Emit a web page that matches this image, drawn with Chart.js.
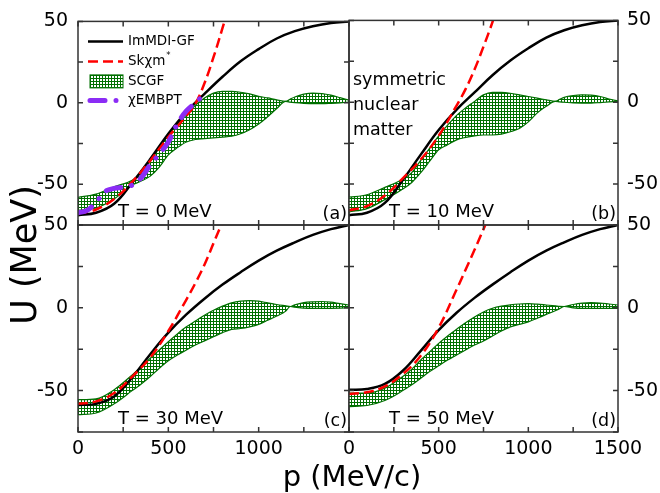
<!DOCTYPE html>
<html>
<head>
<meta charset="utf-8">
<script src="https://cdn.jsdelivr.net/npm/chart.js@4.4.1/dist/chart.umd.min.js"></script>
<style>
  html, body { margin: 0; padding: 0; background: #fff; }
  #wrap { position: relative; width: 660px; height: 493px; overflow: hidden; }
  #wrap canvas { position: absolute; left: 0; top: 0; }
</style>
</head>
<body>
<div id="wrap">
  <canvas id="panelA" width="660" height="493"></canvas>
  <canvas id="panelB" width="660" height="493"></canvas>
  <canvas id="panelC" width="660" height="493"></canvas>
  <canvas id="panelD" width="660" height="493"></canvas>
</div>
<script>
// momentum grid (MeV/c) and tick labels
const P = [0, 100, 200, 300, 400, 500, 600, 700, 800, 900, 1000, 1100, 1200, 1300, 1400, 1500];
const xLabelVals = [0, 500, 1000, 1500];
const yLabelVals = [-50, 0, 50];

// ImMDI-GF (black solid)
const blackA = [-69, -67.5, -62, -49, -34.5, -19, -5.5, 5.5, 16, 25.5, 33, 39.5, 44, 47, 49, 50];
const blackB = [-69, -67.5, -61.5, -47.5, -32, -17, -4.5, 6, 16.5, 25.5, 33, 39.5, 44, 47, 49, 50];
const blackC = [-58.7, -58, -53.5, -42, -28, -15, -4, 5.5, 14, 21.5, 28.5, 34.5, 39.5, 44, 47.5, 50];
const blackD = [-49.5, -49, -46, -38, -26, -13.5, -3, 6, 14, 21.5, 28.5, 34.5, 39.5, 44, 47.5, 50];

// Skchi m* (red dashed)
const RX = [0, 100, 200, 300, 400, 500, 600, 650, 700, 750, 800, 850];
const redA = [-68, -65.5, -59, -48.5, -35.5, -21, -8, -0.5, 12, 28, 46, 65];
const redB = [-66, -63.5, -57, -46.5, -35, -20.5, -2, 8, 20, 34, 49, 66];
const redC = [-58, -56.5, -51.5, -41.5, -30, -14, 5, 15, 26, 39, 52, 65];
const redD = [-52, -51, -47.5, -40, -29, -12, 11, 23, 35, 47.5, 60, 73];

// chiEMBPT (purple dash-dot), T = 0 only
const EX = [0, 50, 100, 150, 200, 250, 300, 350, 400, 450, 500, 550, 600, 650, 700, 720];
const EY = [-67.5, -66, -61, -54.5, -52.5, -51.8, -50.5, -46, -38, -31.5, -24, -13, -5, 0, 5, 6.5];

// SCGF band edges
const BX = [0, 100, 200, 300, 350, 400, 450, 500, 550, 600, 650, 700, 750, 800, 850, 900, 950, 1000, 1050, 1100, 1150, 1175, 1200, 1250, 1300, 1350, 1400, 1450, 1500];
const upperA = [-58, -56, -51.5, -47.5, -43, -36, -27.5, -20, -13, -7.5, -1.5, 3, 6, 7, 7, 6.5, 5.5, 4, 3, 1.8, 0.9, 2.3, 3.6, 5.3, 6, 5.7, 4.7, 3.2, 1.6];
const lowerA = [-66, -64.5, -59, -50.5, -48, -45, -39.5, -32, -27.5, -24, -22.5, -22, -21.5, -21, -20.5, -19, -16.5, -13, -8.5, -3.5, 0.9, 0.4, 0.1, -0.3, -0.5, -0.5, -0.3, 0, 0.5];
const upperB = [-58, -56.5, -52, -47, -43, -35.5, -28, -20.5, -14, -8, -3.5, 0.5, 4.5, 6, 6, 5.5, 4.5, 3.5, 2.5, 1.5, 0.5, 1.8, 3, 4.1, 4.5, 4.3, 3.5, 2, 0.8];
const lowerB = [-67, -65, -59.5, -53, -49, -43, -36, -29, -26, -23, -21.5, -20.5, -20, -20, -19.5, -18, -16, -12, -6.5, -2.5, 0.5, 0.2, 0, -0.4, -0.5, -0.5, -0.2, 0.2, 0.5];
const upperC = [-55.5, -55, -49.5, -40.5, -35.5, -30.5, -25.5, -20.5, -15.8, -11.5, -8, -4.5, -1.5, 1, 3, 4, 4.3, 4, 3, 2, 1.2, 0.8, 1.8, 3.1, 3.6, 3.8, 3.4, 2.5, 1.7];
const lowerC = [-64.5, -63.5, -58, -50, -46, -41.5, -36.5, -32, -28.5, -25.5, -22.5, -20, -17.5, -15, -13, -12.5, -11.5, -10, -7.5, -5, -2, 0.8, 0.4, -0.2, -0.3, -0.3, -0.3, -0.2, 0];
const upperD = [-51.5, -51.5, -48.5, -41.5, -37, -31.5, -26.5, -21.5, -17, -13, -9, -5.5, -2.5, -0.3, 1, 1.8, 2.3, 2.5, 2.2, 1.7, 1.2, 0.9, 0.8, 2, 2.8, 3.1, 2.9, 2.3, 1.7];
const lowerD = [-59.7, -59, -56, -50, -46.5, -42.5, -38.5, -35, -31.5, -28.5, -25.5, -22.5, -20, -17, -14, -11.5, -10, -8.5, -6.3, -4, -1.8, -0.5, 0.8, 0, -0.3, -0.3, -0.3, -0.3, -0.3];

const FONT = '"DejaVu Sans", sans-serif';
const GREEN = '#007000';
const PURPLE = '#8b2cf5';

function pts(xs, ys) {
  return xs.map((x, i) => ({ x: x, y: ys[i] }));
}

// hatch pattern for the SCGF band
const tile = document.createElement('canvas');
tile.width = 3; tile.height = 3;
const tctx = tile.getContext('2d');
tctx.fillStyle = '#fff';
tctx.fillRect(0, 0, 3, 3);
tctx.fillStyle = GREEN;
tctx.fillRect(0, 0, 3, 1);
tctx.fillRect(0, 0, 1, 3);
const hatch = tctx.createPattern(tile, 'repeat');

// frame, inner ticks and panel texts
const decor = {
  id: 'decor',
  afterDraw(chart, args, opts) {
    const ctx = chart.ctx, a = chart.chartArea;
    const xs = chart.scales.x, ys = chart.scales.y;
    ctx.save();
    ctx.strokeStyle = '#333';
    ctx.lineWidth = 1.5;
    ctx.setLineDash([]);
    ctx.beginPath();
    xs.ticks.forEach(t => {
      const px = xs.getPixelForValue(t.value);
      ctx.moveTo(px, a.bottom); ctx.lineTo(px, a.bottom - 5);
      ctx.moveTo(px, a.top); ctx.lineTo(px, a.top + 5);
    });
    ys.ticks.forEach(t => {
      const py = ys.getPixelForValue(t.value);
      ctx.moveTo(a.left, py); ctx.lineTo(a.left + 5, py);
      ctx.moveTo(a.right, py); ctx.lineTo(a.right - 5, py);
    });
    ctx.stroke();
    ctx.strokeRect(a.left, a.top, a.right - a.left, a.bottom - a.top);

    ctx.fillStyle = '#000';
    ctx.textBaseline = 'alphabetic';
    ctx.font = '18px ' + FONT;
    ctx.textAlign = 'left';
    ctx.fillText(opts.tLabel, a.left + 40, a.bottom - 8.5);
    ctx.font = '17.5px ' + FONT;
    ctx.textAlign = 'right';
    ctx.fillText(opts.tag, a.right - 2, a.bottom - 6);

    if (opts.note) {
      ctx.textAlign = 'left';
      opts.note.forEach((line, i) => ctx.fillText(line, a.left + 4, a.top + 65 + i * 25));
    }

    if (opts.legend) {
      const x0 = a.left + 10, x1 = a.left + 45, tx = a.left + 50;
      const rows = [a.top + 20, a.top + 40, a.top + 60, a.top + 79];
      ctx.lineCap = 'butt';
      ctx.strokeStyle = '#000'; ctx.lineWidth = 2.5;
      ctx.beginPath(); ctx.moveTo(x0, rows[0]); ctx.lineTo(x1, rows[0]); ctx.stroke();
      ctx.strokeStyle = '#ff0000'; ctx.setLineDash([10, 5]);
      ctx.beginPath(); ctx.moveTo(x0, rows[1]); ctx.lineTo(x1, rows[1]); ctx.stroke();
      ctx.setLineDash([]);
      ctx.fillStyle = hatch;
      ctx.fillRect(x0 + 2, rows[2] - 6.5, x1 - x0 - 2, 13);
      ctx.strokeStyle = GREEN; ctx.lineWidth = 1;
      ctx.strokeRect(x0 + 2, rows[2] - 6.5, x1 - x0 - 2, 13);
      ctx.strokeStyle = PURPLE; ctx.lineWidth = 5; ctx.lineCap = 'round';
      ctx.setLineDash([15, 11, 0.01, 11]);
      ctx.beginPath(); ctx.moveTo(x0 + 2, rows[3]); ctx.lineTo(x1, rows[3]); ctx.stroke();
      ctx.setLineDash([]);
      ctx.fillStyle = '#000';
      ctx.textAlign = 'left';
      ctx.textBaseline = 'middle';
      ctx.font = '13.5px ' + FONT;
      ctx.fillText('ImMDI-GF', tx, rows[0]);
      ctx.fillText('Sk\u03C7m', tx, rows[1]);
      const w = ctx.measureText('Sk\u03C7m').width;
      ctx.font = '8.5px ' + FONT;
      ctx.fillText('*', tx + w + 1, rows[1] - 6);
      ctx.font = '13.5px ' + FONT;
      ctx.fillText('SCGF', tx, rows[2]);
      ctx.fillText('\u03C7EMBPT', tx, rows[3]);
    }

    if (opts.titles) {
      ctx.fillStyle = '#000';
      ctx.textBaseline = 'alphabetic';
      ctx.textAlign = 'center';
      ctx.font = '29px ' + FONT;
      ctx.fillText('p (MeV/c)', 352, 486);
      ctx.save();
      ctx.translate(36, 255);
      ctx.rotate(-Math.PI / 2);
      ctx.font = '35px ' + FONT;
      ctx.fillText('U (MeV)', 0, 0);
      ctx.restore();
    }
    ctx.restore();
  }
};

function makePanel(id, p) {
  const datasets = [];
  if (p.emb) {
    datasets.push({
      data: pts(EX, EY), borderColor: PURPLE, borderWidth: 5,
      borderDash: [15, 11, 0.01, 11], borderCapStyle: 'round', borderJoinStyle: 'round',
      fill: false, tension: 0.4, clip: 0
    });
  }
  datasets.push({
    data: pts(RX, p.red), borderColor: '#ff0000', borderWidth: 2.5,
    borderDash: [10, 5], fill: false, tension: 0.4, clip: 0
  });
  datasets.push({
    data: pts(P, p.black), borderColor: '#000', borderWidth: 2.5,
    fill: false, tension: 0.4, clip: 0
  });
  datasets.push({
    data: pts(BX, p.upper), borderColor: GREEN, borderWidth: 1.2,
    backgroundColor: hatch, fill: '+1', cubicInterpolationMode: 'monotone', clip: 0
  });
  datasets.push({
    data: pts(BX, p.lower), borderColor: GREEN, borderWidth: 1.2,
    fill: false, cubicInterpolationMode: 'monotone', clip: 0
  });

  new Chart(document.getElementById(id), {
    type: 'line',
    data: { datasets: datasets },
    options: {
      responsive: false,
      animation: false,
      events: [],
      layout: {
        padding: {
          left: p.left ? 0 : 349,
          right: p.left ? 311 : 0,
          top: p.bottom ? 225 : 18,
          bottom: p.bottom ? 0 : 268
        }
      },
      elements: { point: { radius: 0 } },
      plugins: {
        legend: { display: false },
        tooltip: { enabled: false },
        filler: { drawTime: 'beforeDatasetsDraw' },
        decor: { tLabel: p.tLabel, tag: p.tag, note: p.note, legend: p.legend, titles: p.titles }
      },
      scales: {
        x: {
          type: 'linear', min: 0, max: 1500,
          display: p.bottom,
          grid: { display: false, drawTicks: false },
          border: { display: false },
          afterFit: s => { if (p.bottom) s.height = 61; },
          ticks: {
            stepSize: 250, autoSkip: false, maxRotation: 0, padding: 6,
            color: '#000', font: { family: FONT, size: 19 },
            callback: v => (xLabelVals.includes(v) && !(p.left && v === 1500)) ? String(v) : ''
          }
        },
        y: {
          type: 'linear', min: -75, max: 50,
          position: p.left ? 'left' : 'right',
          grid: { display: false, drawTicks: false },
          border: { display: false },
          afterFit: s => { s.width = p.left ? 78 : 42; },
          ticks: {
            stepSize: 25, autoSkip: false, padding: p.left ? 10 : 9,
            color: '#000', font: { family: FONT, size: 19 },
            callback: v => yLabelVals.includes(v) ? String(v) : ''
          }
        }
      }
    },
    plugins: [decor]
  });
}

makePanel('panelA', { left: true, bottom: false, black: blackA, red: redA, upper: upperA, lower: lowerA,
  emb: true, legend: true, tLabel: 'T = 0 MeV', tag: '(a)' });
makePanel('panelB', { left: false, bottom: false, black: blackB, red: redB, upper: upperB, lower: lowerB,
  tLabel: 'T = 10 MeV', tag: '(b)', note: ['symmetric', 'nuclear', 'matter'] });
makePanel('panelC', { left: true, bottom: true, black: blackC, red: redC, upper: upperC, lower: lowerC,
  tLabel: 'T = 30 MeV', tag: '(c)' });
makePanel('panelD', { left: false, bottom: true, black: blackD, red: redD, upper: upperD, lower: lowerD,
  tLabel: 'T = 50 MeV', tag: '(d)', titles: true });
</script>
</body>
</html>
